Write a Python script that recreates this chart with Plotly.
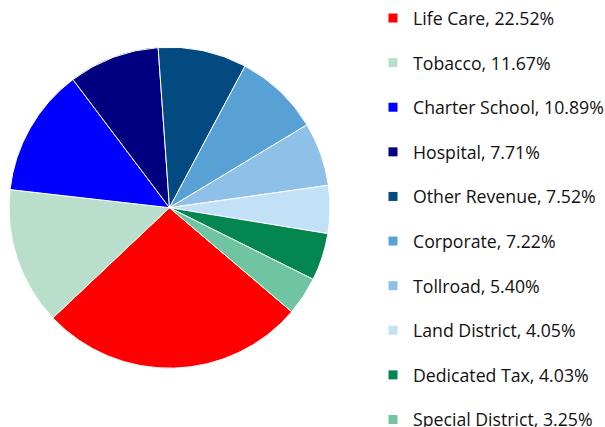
import plotly.graph_objects as go

categories = ["Life Care", "Tobacco", "Charter School", "Hospital", "Other Revenue",
              "Corporate", "Tollroad", "Land District", "Dedicated Tax", "Special District"]
values = [22.52, 11.67, 10.89, 7.71, 7.52, 7.22, 5.40, 4.05, 4.03, 3.25]
colors = ["#FF0000", "#B9DFCC", "#0000FF", "#000080", "#034A80",
          "#58A1D5", "#8FC1E8", "#C3E1F6", "#03864F", "#6FC5A2"]

W, H = 605, 427
cx, cy, r = 169.5, 207.7, 160.5

fig = go.Figure()
fig.add_trace(go.Pie(
    labels=categories, values=values, sort=False, direction="clockwise",
    rotation=130.4, textinfo="none", hoverinfo="label+percent",
    marker=dict(colors=colors, line=dict(color="white", width=1)),
    showlegend=False,
    domain=dict(x=[(cx - r) / W, (cx + r) / W], y=[(H - cy - r) / H, (H - cy + r) / H]),
))

for cat, val, col in zip(categories, values, colors):
    fig.add_trace(go.Scatter(
        x=[None], y=[None], mode="markers", name=f"{cat}, {val:.2f}%",
        legendgroup=cat,
        marker=dict(symbol="square", size=9, color=col),
        hoverinfo="skip",
    ))

fig.update_layout(
    width=W, height=H, margin=dict(l=0, r=0, t=0, b=0, autoexpand=False),
    paper_bgcolor="white", plot_bgcolor="white",
    xaxis=dict(visible=False, domain=[0.99, 1]), yaxis=dict(visible=False, domain=[0.99, 1]),
    legend=dict(x=373 / W, xanchor="left", y=1, yanchor="top",
                font=dict(family="Open Sans", size=17.7, color="#111111"),
                tracegroupgap=18.6, itemwidth=30, bgcolor="rgba(0,0,0,0)",
                maxheight=1000),
)

fig.write_html("out.html")
